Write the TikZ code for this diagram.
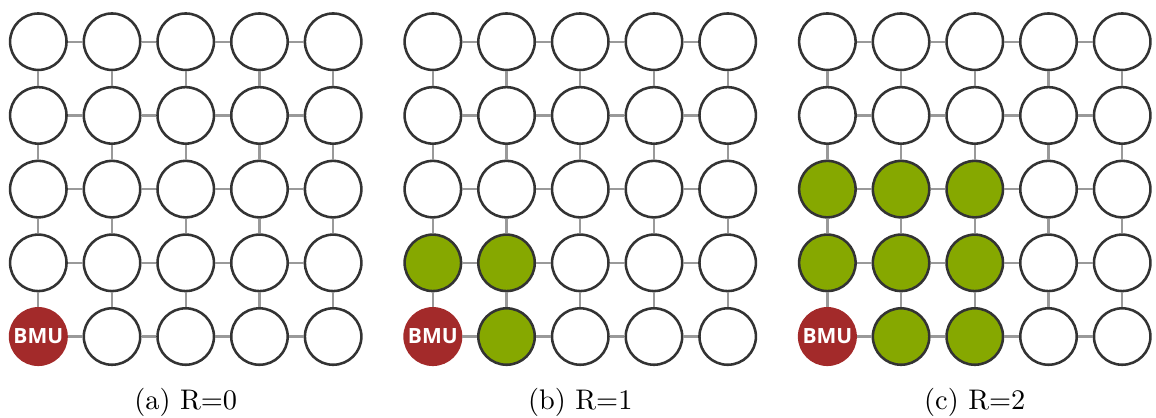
\documentclass[tikz,border=0pt]{standalone}
\usepackage{fontspec}
\usepackage{tikz}
\newfontfamily\bmufont{Open Sans}
\definecolor{bmured}{HTML}{A32A2A}
\definecolor{nbgreen}{HTML}{86A800}
\tikzset{
  unit/.style={circle, draw=black!80, fill=white, line width=0.9pt, minimum size=7mm,
               inner sep=0pt},
  hood/.style={unit, fill=nbgreen},                                   % neighbourhood
  bmu/.style={unit, draw=bmured, fill=bmured, text=white,
              font=\bmufont\bfseries\fontsize{7.4}{8}\selectfont},
  link/.style={draw=black!40, line width=0.8pt},                      % lattice edge
  sublabel/.style={font=\normalsize, inner sep=1pt},
}
\begin{document}
\begin{tikzpicture}
  \useasboundingbox (0,0) rectangle (14.334,-5.171);
  \foreach \p/\r [count=\k from 0] in {a/0,b/1,c/2} {
    \begin{scope}[xshift=\k*4.892cm]
      \foreach \i in {0,...,4} {
        \foreach \j in {0,...,4} {
          \pgfmathtruncatemacro\d{max(\i,4-\j)}
          \ifnum\d=0
            \node[bmu] (\p\i\j) at (0.475+\i*0.914,-0.517-\j*0.914) {BMU};
          \else\ifnum\d>\r
            \node[unit] (\p\i\j) at (0.475+\i*0.914,-0.517-\j*0.914) {};
          \else
            \node[hood] (\p\i\j) at (0.475+\i*0.914,-0.517-\j*0.914) {};
          \fi\fi
        }
      }
      \foreach \i in {0,...,4} {
        \foreach \j [evaluate=\j as \jj using int(\j+1)] in {0,...,3} {
          \draw[link] (\p\i\j) -- (\p\i\jj);
          \draw[link] (\p\j\i) -- (\p\jj\i);
        }
      }
      \node[sublabel] (lbl\p) at (2.303,-4.985) {(\p) R=\r};
    \end{scope}
  }
\end{tikzpicture}
\end{document}
